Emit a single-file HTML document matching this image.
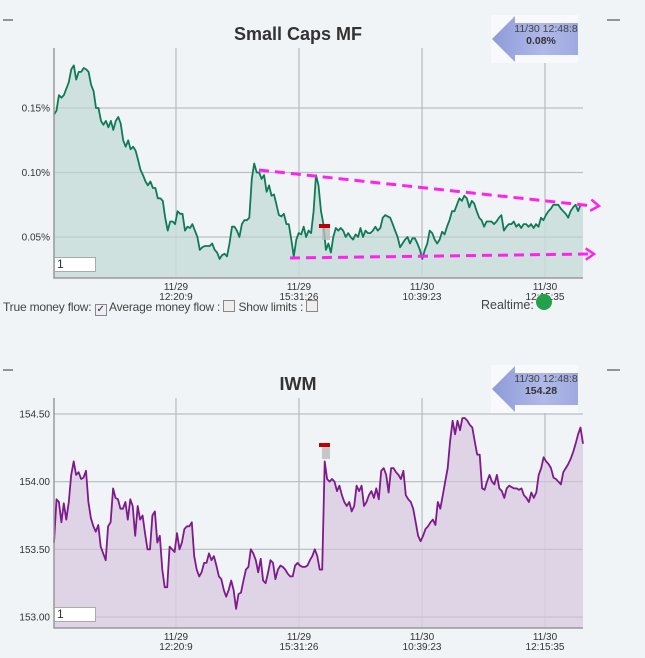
<!DOCTYPE html>
<html><head><meta charset="utf-8"><style>
body{margin:0;background:#f0f4f7;font-family:"Liberation Sans",sans-serif;}
#root{position:relative;width:645px;height:658px;overflow:hidden;background:#f0f4f7;}
svg{position:absolute;left:0;top:0;}
.legend{position:absolute;left:3px;top:300px;font-size:12px;letter-spacing:-0.2px;color:#444;white-space:nowrap;}
.cb{display:inline-block;width:10px;height:10px;border:1px solid #888;background:#eee;vertical-align:-1px;font-size:10px;line-height:10px;text-align:center;color:#226;}
.inp{position:absolute;width:38px;height:13px;background:#fff;border:1px solid #aaa;font-size:12px;line-height:13px;padding-left:2px;color:#333;}
</style></head><body>
<div id="root">
<svg id="chart" width="645" height="658"></svg>
<div class="inp" style="left:54px;top:257px">1</div>
<div class="inp" style="left:54px;top:607px">1</div>
<div class="legend">True money flow: <span class="cb">✓</span> Average money flow : <span class="cb"></span> Show limits : <span class="cb"></span></div>
<div style="position:absolute;left:481px;top:298px;font-size:12.5px;color:#444">Realtime:</div>
<div style="position:absolute;left:536px;top:294px;width:16px;height:16px;border-radius:50%;background:#22a04a"></div>
</div>
<script>
const mfValues=[0.145,0.148,0.16,0.158,0.16,0.165,0.17,0.18,0.183,0.172,0.178,0.178,0.181,0.18,0.178,0.168,0.163,0.15,0.15,0.14,0.137,0.14,0.135,0.14,0.133,0.14,0.143,0.138,0.125,0.12,0.125,0.118,0.12,0.117,0.11,0.102,0.098,0.093,0.09,0.093,0.088,0.088,0.08,0.08,0.078,0.065,0.055,0.062,0.062,0.06,0.07,0.068,0.068,0.055,0.058,0.057,0.06,0.055,0.05,0.04,0.042,0.043,0.043,0.043,0.045,0.04,0.038,0.033,0.036,0.037,0.035,0.045,0.058,0.058,0.055,0.05,0.06,0.063,0.063,0.065,0.095,0.107,0.1,0.1,0.095,0.098,0.085,0.09,0.082,0.083,0.075,0.067,0.066,0.068,0.06,0.06,0.048,0.035,0.048,0.053,0.052,0.058,0.05,0.055,0.053,0.07,0.098,0.09,0.07,0.06,0.04,0.045,0.038,0.05,0.057,0.055,0.057,0.055,0.05,0.053,0.05,0.048,0.052,0.05,0.057,0.05,0.055,0.053,0.053,0.055,0.058,0.055,0.057,0.065,0.067,0.066,0.065,0.06,0.055,0.05,0.042,0.045,0.048,0.05,0.045,0.049,0.049,0.045,0.04,0.033,0.04,0.045,0.055,0.053,0.048,0.045,0.048,0.054,0.052,0.058,0.063,0.07,0.07,0.075,0.08,0.078,0.082,0.08,0.073,0.078,0.076,0.07,0.065,0.063,0.058,0.062,0.062,0.062,0.06,0.062,0.065,0.067,0.055,0.058,0.06,0.06,0.062,0.058,0.06,0.057,0.06,0.06,0.058,0.06,0.057,0.06,0.058,0.065,0.063,0.067,0.07,0.072,0.075,0.075,0.075,0.072,0.07,0.068,0.065,0.07,0.073,0.075,0.07,0.075,0.075];
const iwmValues=[153.55,153.87,153.85,153.7,153.84,153.72,153.85,154.05,154.15,154.05,154.07,154.02,154.03,154.08,153.85,153.73,153.67,153.63,153.68,153.52,153.47,153.42,153.67,153.7,153.95,153.88,153.87,153.8,153.8,153.85,153.72,153.87,153.82,153.6,153.82,153.72,153.75,153.62,153.5,153.5,153.75,153.78,153.55,153.6,153.35,153.22,153.22,153.52,153.5,153.48,153.62,153.5,153.55,153.65,153.67,153.67,153.7,153.45,153.35,153.3,153.33,153.4,153.4,153.47,153.42,153.45,153.38,153.3,153.28,153.2,153.15,153.2,153.27,153.2,153.06,153.17,153.18,153.27,153.35,153.37,153.5,153.47,153.42,153.33,153.43,153.27,153.25,153.33,153.42,153.4,153.28,153.35,153.38,153.37,153.35,153.32,153.3,153.3,153.38,153.4,153.38,153.37,153.37,153.38,153.42,153.45,153.5,153.45,153.35,153.35,154.15,154.02,154.0,154.02,154.0,153.93,153.97,153.9,153.85,153.82,153.85,153.78,153.82,153.97,153.93,153.97,153.82,153.85,153.9,153.93,153.88,153.95,153.87,154.08,154.1,154.05,153.92,154.1,154.1,154.07,154.05,154.02,154.08,153.9,153.87,153.85,153.8,153.7,153.6,153.56,153.6,153.65,153.67,153.7,153.72,153.68,153.85,153.8,153.9,154.0,154.1,154.3,154.45,154.35,154.45,154.38,154.47,154.47,154.45,154.42,154.4,154.3,154.2,154.2,153.95,153.94,154.0,154.05,154.0,153.98,154.05,153.95,153.93,153.88,153.95,153.97,153.96,153.95,153.95,153.94,153.95,153.9,153.88,153.85,153.92,153.88,153.92,154.05,154.1,154.18,154.15,154.13,154.1,154.03,154.02,154.0,153.98,154.07,154.1,154.13,154.17,154.22,154.28,154.35,154.4,154.28];
const mfTicks=[0.05,0.10,0.15];
const mfTickLabels=["0.05%","0.10%","0.15%"];
const iwmTicks=[153.0,153.5,154.0,154.5];
const iwmTickLabels=["153.00","153.50","154.00","154.50"];
const xTickLabels=[["11/29","12:20:9"],["11/29","15:31:26"],["11/30","10:39:23"],["11/30","12:15:35"]];
const xTickFrac=[0.2306,0.4631,0.6957,0.9282];

const NS="http://www.w3.org/2000/svg";
const svg=document.getElementById('chart');
function mk(tag,attrs,parent){const e=document.createElementNS(NS,tag);for(const k in attrs)e.setAttribute(k,attrs[k]);(parent||svg).appendChild(e);return e;}
const X0=54,X1=583;
function drawChart(o){
  const g=mk('g',{});
  
  
  const y=v=>o.yA+(v-o.vA)*(o.yB-o.yA)/(o.vB-o.vA);
  const x=i=>X0+i*(X1-X0)/(o.vals.length-1);
  o.ticks.forEach((t,i)=>{
    const l=mk('line',{x1:X0,x2:X1,y1:y(t),y2:y(t),stroke:'#b9bfc2','stroke-width':1.2},g);
    
    
    const tx=mk('text',{x:50,y:y(t)+3.5,'font-size':10,'text-anchor':'end',fill:'#333','font-family':'Liberation Sans, sans-serif'},g);
    tx.textContent=o.tickLabels[i];
    
    
  });
  xTickFrac.forEach((f,i)=>{
    const xx=X0+f*(X1-X0);
    const l=mk('line',{x1:xx,x2:xx,y1:o.top,y2:o.bot,stroke:'#aab0b3','stroke-width':1},g);
    
    
    xTickLabels[i].forEach((s,j)=>{
      const t=mk('text',{x:xx,y:o.bot+12+j*10,'font-size':10,'text-anchor':'middle',fill:'#333','font-family':'Liberation Sans, sans-serif'},g);
      t.textContent=s;
      
      
    });
  });
  let d='';o.vals.forEach((v,i)=>{d+=(i?'L':'M')+x(i).toFixed(1)+','+y(v).toFixed(1);});
  const area=mk('path',{d:d+'L'+X1+','+o.bot+'L'+X0+','+o.bot+'Z',fill:o.fill,opacity:0.85},g);
  
  
  o.ticks.forEach(t=>{mk('line',{x1:X0,x2:X1,y1:y(t),y2:y(t),stroke:'#b9bfc2','stroke-width':1,opacity:0.6},g);});
  const line=mk('path',{d:d,fill:'none',stroke:o.stroke,'stroke-width':1.8,'stroke-linejoin':'round'},g);
  
  
  const ax=mk('path',{d:`M${X0},${o.top}L${X0},${o.bot}L${X1},${o.bot}`,fill:'none',stroke:'#999','stroke-width':1.5},g);
  
  
  const mx=319,my=o.markerY;
  const mg=mk('rect',{x:mx+3,y:my+4,width:8,height:12,fill:'#bbb',opacity:0.8},g);
  
  
  const mr=mk('rect',{x:mx,y:my,width:11,height:4,fill:'#c00000'},g);
  
  
  const tt=mk('text',{x:298,y:o.titleY,'font-size':18,'font-weight':'bold','text-anchor':'middle',fill:'#333','font-family':'Liberation Sans, sans-serif'},g);
  tt.textContent=o.title;
  
  
  const by=o.boxY;
  const bx=mk('rect',{x:491,y:by,width:87,height:48,fill:'#f8f9fd'},g);
  
  
  const ar=mk('path',{d:`M492,${by+24}L515,${by+1}L515,${by+8}L578,${by+8}L578,${by+40}L515,${by+40}L515,${by+47}Z`,fill:'url(#ag)'},g);
  
  
  const t1=mk('text',{x:546,y:by+17,'font-size':10.5,'text-anchor':'middle',fill:'#444','font-family':'Liberation Sans, sans-serif'},g);
  t1.textContent='11/30 12:48:8';
  
  
  const t2=mk('text',{x:541,y:by+29,'font-size':10.5,'font-weight':'bold','text-anchor':'middle',fill:'#333','font-family':'Liberation Sans, sans-serif'},g);
  t2.textContent=o.last;
  
  
  [[3,13],[607,620]].forEach(p=>{
    const m=mk('line',{x1:p[0],x2:p[1],y1:o.dashY,y2:o.dashY,stroke:'#333','stroke-width':1},g);
    
    
  });
  return {x,y};
}
const defs=mk('defs',{});
const lg=mk('linearGradient',{id:'ag',x1:0,y1:0,x2:1,y2:0},defs);
mk('stop',{offset:0,'stop-color':'#8e9bd8'},lg);mk('stop',{offset:0.6,'stop-color':'#b0b9e8'},lg);mk('stop',{offset:1,'stop-color':'#9fa9e0'},lg);
drawChart({name:'small-caps-mf-chart',vals:mfValues,ticks:mfTicks,tickLabels:mfTickLabels,vA:0.15,vB:0.05,yA:108,yB:237,top:48,bot:278,fill:'#c8ddd9',stroke:'#0f7a55',title:'Small Caps MF',titleY:40,boxY:15,last:'0.08%',dashY:20,markerY:224});
drawChart({name:'iwm-chart',vals:iwmValues,ticks:iwmTicks,tickLabels:iwmTickLabels,vA:154.5,vB:153.0,yA:414,yB:617,top:398,bot:628,fill:'#dccde3',stroke:'#7d1a8c',title:'IWM',titleY:390,boxY:365,last:'154.28',dashY:370,markerY:443});
function trend(x1,y1,x2,y2,name){
  const l=mk('line',{x1,y1,x2:x2-6,y2,stroke:'#ff22ee','stroke-width':3,'stroke-dasharray':'10,6'});
  
  
  const a=Math.atan2(y2-y1,x2-x1);
  const p=(ang)=>[x2-10*Math.cos(a+ang),y2-10*Math.sin(a+ang)];
  const A=p(0.6),B=p(-0.6);
  const h=mk('path',{d:`M${A[0]},${A[1]}L${x2},${y2}L${B[0]},${B[1]}`,fill:'none',stroke:'#ff22ee','stroke-width':2.5});
  
  
}
trend(259,170,599,206,'upper-trend-line');
trend(290,258,594,254,'lower-trend-line');
</script>
</body></html>
